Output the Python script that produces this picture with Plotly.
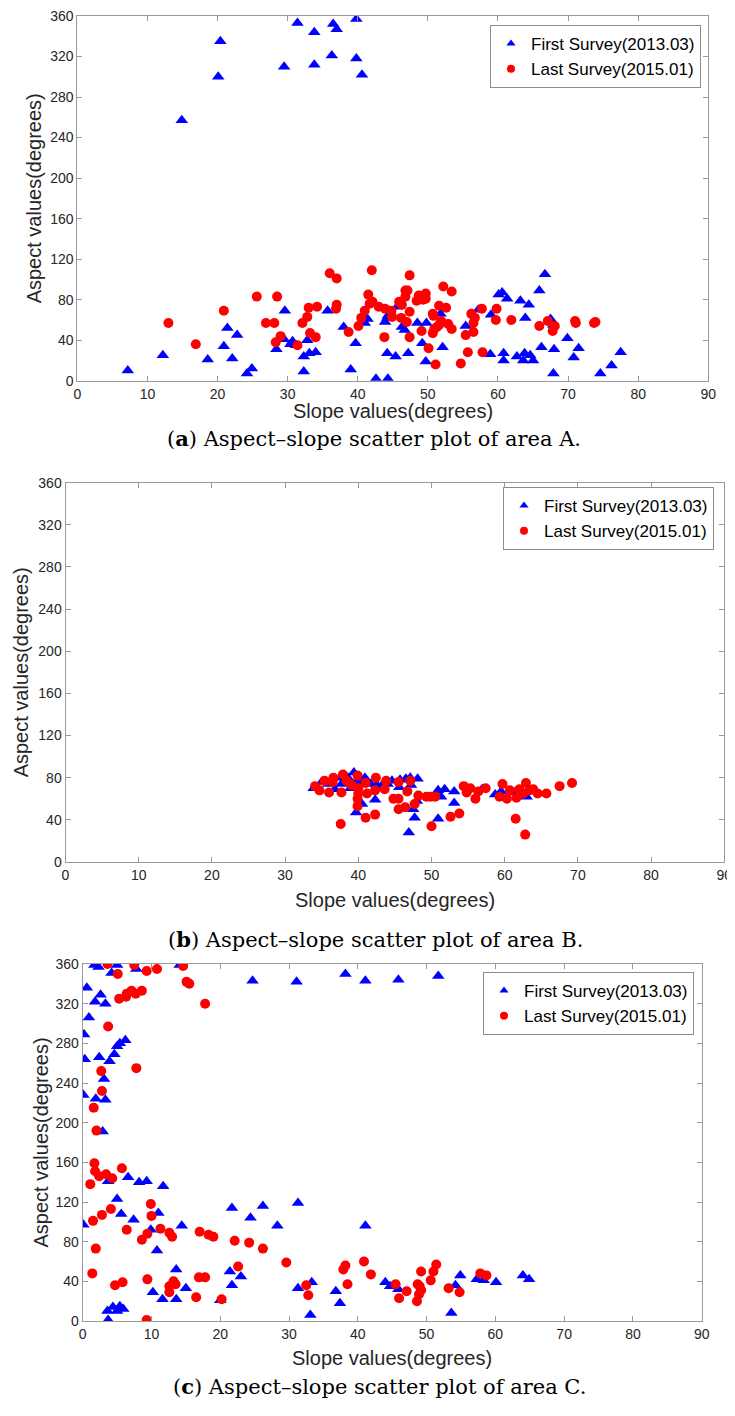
import plotly.graph_objects as go

# Page is 735x1416; the browser body adds an 8px margin, so the figure is 727x1408
PAGE_W, PAGE_H = 735, 1416
OFF = 8
W, H = PAGE_W - OFF, PAGE_H - OFF

# ---------------- Data ----------------
a_first_slope = [14.9, 20.1, 20.4, 29.5, 31.4, 33.8, 33.8, 36.3, 36.5, 37.0, 39.8, 39.8, 40.6,
                 7.2, 12.2, 18.6, 20.9, 21.4, 22.1, 22.8, 24.2, 24.9, 28.4, 29.6, 29.5, 30.7, 30.4,
                 31.2, 32.3, 32.3, 32.8, 33.1, 34.0, 35.7, 38.0, 39.0, 39.7, 41.0, 41.4, 42.6, 43.9,
                 44.2, 44.3, 44.2, 44.3, 45.4, 45.6, 46.3, 46.7, 47.2, 48.5, 49.2, 49.8, 49.7, 51.8,
                 52.1, 55.4, 57.2, 58.9, 59.0, 60.1, 60.6, 61.3, 60.8, 60.8, 62.7, 63.2, 63.8, 63.9,
                 63.6, 64.4, 64.6, 65.0, 65.9, 66.2, 66.7, 67.5, 67.9, 67.9, 68.0, 69.9, 70.8, 71.5,
                 74.6, 76.2, 77.5]
a_first_aspect = [257, 300, 335, 310, 353, 344, 312, 321, 352, 347, 357, 318, 302,
                  10, 25, 21, 34, 52, 22, 45, 7, 12, 31, 69, 41, 39, 36,
                  35, 24, 9, 40, 27, 28, 69, 53, 11, 37, 57, 61, 2, 58,
                  62, 64, 27, 2, 24, 73, 53, 50, 27, 57, 37, 57, 19, 66,
                  33, 54, 70, 26, 65, 85, 87, 81, 27, 20, 24, 79, 27, 62,
                  20, 75, 25, 20, 89, 33, 105, 61, 55, 7, 31, 42, 23, 32,
                  7, 15, 28]
a_last_slope = [13.0, 16.9, 20.9, 25.6, 26.9, 28.1, 28.5, 28.3, 29.0, 31.4, 32.1, 32.8, 33.0, 33.2,
                34.0, 34.2, 36.0, 37.0, 37.0, 36.9, 38.7, 40.1, 40.5, 41.0, 41.5, 41.7, 42.0, 42.1,
                43.0, 43.9, 43.8, 44.8, 44.9, 45.9, 46.2, 46.3, 46.8, 47.1, 46.8, 47.0, 47.4, 47.4,
                47.4, 48.4, 48.7, 49.1, 49.3, 49.7, 49.7, 50.1, 50.7, 50.8, 50.7, 50.9, 51.1, 51.3,
                51.6, 51.6, 51.9, 52.2, 52.6, 52.9, 53.4, 53.4, 54.7, 55.4, 55.7, 56.2, 56.7, 56.5,
                56.5, 57.7, 57.8, 59.8, 59.7, 61.9, 65.9, 67.1, 67.8, 68.1, 71.0, 71.1, 73.7, 73.9]
a_last_aspect = [57, 36, 69, 83, 57, 57, 83, 38, 44, 35, 57, 63, 72, 47,
                 43, 73, 106, 101, 75, 71, 48, 54, 62, 69, 85, 76, 109, 78,
                 73, 71, 43, 69, 63, 78, 62, 75, 89, 89, 83, 58, 104, 68,
                 43, 79, 84, 49, 80, 86, 81, 32, 66, 64, 47, 51, 16, 53,
                 55, 74, 59, 93, 72, 56, 88, 51, 17, 45, 28, 66, 62, 57,
                 48, 71, 28, 71, 60, 60, 54, 59, 49, 54, 59, 57, 57, 58]

b_first_slope = [33.9, 35.0, 35.9, 36.8, 37.5, 37.7, 38.6, 38.9, 39.4, 39.8, 40.2, 40.5, 39.7, 40.9,
                 41.7, 42.3, 42.5, 43.1, 44.0, 44.6, 45.6, 45.7, 46.5, 47.2, 47.1, 48.1, 48.0, 47.5,
                 47.7, 46.9, 50.9, 51.3, 50.9, 51.8, 53.1, 53.1, 56.9, 58.7, 59.5, 61.4, 63.0]
b_first_aspect = [70, 76, 74, 69, 80, 74, 80, 70, 85, 77, 74, 55, 47, 80,
                  74, 59, 73, 72, 74, 77, 71, 78, 79, 73, 80, 79, 58, 50,
                  42, 28, 68, 62, 41, 69, 67, 56, 69, 64, 67, 66, 62]
b_last_slope = [34.1, 34.7, 35.4, 36.0, 36.6, 36.5, 37.7, 37.9, 37.6, 38.4, 39.1, 39.9, 40.0, 40.0,
                39.9, 39.9, 41.0, 41.0, 41.2, 42.3, 42.4, 42.3, 43.6, 43.8, 44.8, 45.5, 45.5, 45.5,
                46.4, 46.7, 47.1, 47.7, 48.2, 49.3, 49.9, 50.5, 50.0, 52.6, 53.8, 54.4, 54.8, 55.3,
                56.0, 56.4, 57.4, 59.3, 59.7, 60.3, 60.7, 61.5, 61.6, 62.0, 62.5, 62.9, 62.8, 63.4,
                63.9, 64.5, 65.7, 67.5, 69.2]
b_last_aspect = [72, 68, 77, 66, 80, 76, 66, 83, 36, 77, 73, 82, 70, 65,
                 60, 53, 75, 42, 65, 68, 80, 45, 69, 77, 60, 60, 76, 50,
                 52, 67, 77, 55, 63, 62, 62, 62, 34, 43, 46, 72, 66, 70,
                 60, 67, 70, 62, 74, 60, 68, 41, 61, 69, 65, 75, 26, 68,
                 69, 65, 65, 72, 75]

c_first_slope = [1.7, 2.3, 5.0, 4.2, 7.8, 14.1, 0.6, 1.8, 2.6, 3.3, 0.9, 0.2, 0.3, 0.1, 2.4, 3.9,
                 4.6, 5.0, 5.4, 6.2, 3.1, 1.9, 3.3, 2.9, 24.7, 31.1, 38.2, 41.1, 45.9, 51.7,
                 0.1, 3.7, 5.0, 5.6, 6.6, 7.4, 8.2, 9.3, 9.9, 11.0, 10.8, 11.7, 14.4, 13.6, 15.0,
                 13.6, 11.6, 10.2, 3.6, 3.7, 4.4, 5.0, 5.4, 5.9, 20.0, 21.4, 21.7, 21.7, 23.0,
                 24.4, 26.2, 28.3, 31.3, 31.3, 33.1, 33.3, 36.8, 37.4, 41.1, 44.0, 44.7, 45.9,
                 53.6, 54.2, 54.9, 57.3, 58.3, 60.1, 64.0, 64.9]
c_first_aspect = [359, 357, 359, 351, 355, 359, 336, 322, 329, 320, 306, 289, 264, 228, 266, 262,
                  269, 277, 280, 283, 244, 224, 223, 191, 343, 342, 350, 343, 344, 348,
                  97, 141, 123, 108, 145, 102, 140, 141, 92, 109, 71, 136, 96, 52, 33,
                  22, 22, 29, 10, 1, 14, 10, 15, 12, 21, 50, 36, 114, 45,
                  104, 116, 96, 119, 33, 6, 39, 30, 18, 96, 39, 35, 32,
                  8, 36, 46, 42, 41, 39, 46, 42]
c_last_slope = [3.6, 5.1, 7.5, 9.3, 10.8, 14.6, 15.1, 15.5, 17.8, 5.3, 6.4, 6.3, 7.1, 7.7, 8.6,
                3.7, 7.8, 2.7, 2.8, 1.6, 2.0, 1.7, 1.8, 2.4, 3.4, 4.3, 1.1, 5.7, 1.5, 2.8, 4.1,
                1.9, 1.4, 6.4, 8.6, 9.4, 9.9, 10.0, 11.3, 12.6, 13.0, 17.0, 18.3, 19.0, 22.1,
                24.2, 26.2, 29.6, 22.6, 16.9, 17.8, 16.5, 20.2, 13.2, 13.5, 12.6, 12.6, 9.4, 9.3,
                4.7, 5.8, 32.5, 32.8, 37.9, 38.2, 38.5, 40.9, 41.9, 45.5, 46.0, 47.1, 48.6, 48.7,
                49.0, 49.2, 48.9, 49.2, 50.6, 51.0, 51.4, 53.2, 54.8, 57.8, 58.7]
c_last_aspect = [360, 350, 359, 353, 355, 358, 342, 340, 320, 325, 330, 327, 333, 330, 333,
                 297, 255, 252, 232, 215, 192, 159, 151, 146, 148, 144, 138, 154, 101, 107, 113,
                 73, 48, 92, 82, 88, 118, 106, 93, 89, 85, 90, 87, 85, 81,
                 79, 73, 59, 55, 44, 44, 24, 22, 40, 37, 35, 29, 42, 1,
                 36, 39, 36, 26, 52, 56, 37, 60, 47, 37, 23, 30, 20, 37,
                 35, 31, 27, 50, 41, 50, 57, 33, 29, 48, 46]

first_name = "First Survey(2013.03)"
last_name = "Last Survey(2015.01)"
captions = ["(<b>a</b>) Aspect\u2013slope scatter plot of area A.",
            "(<b>b</b>) Aspect\u2013slope scatter plot of area B.",
            "(<b>c</b>) Aspect\u2013slope scatter plot of area C."]
x_ticks = list(range(0, 91, 10))
y_ticks = list(range(0, 361, 40))

# ---------------- Layout geometry (page pixels) ----------------
def fx(px):
    return (px - OFF) / W

def fy(py):
    return 1 - (py - OFF) / H

panels = [
    dict(x=(77.3, 708.3), y=(16.0, 380.7), ytitle_x=34, xtitle_y=411, cap_y=438, cap_x=374,
         legend=(701, 25)),
    dict(x=(65.5, 724.3), y=(482.7, 862.0), ytitle_x=21, xtitle_y=900, cap_y=939, cap_x=375,
         legend=(714, 487)),
    dict(x=(82.7, 701.7), y=(964.0, 1321.0), ytitle_x=40, xtitle_y=1358, cap_y=1386, cap_x=379,
         legend=(694, 972)),
]
data = [
    (a_first_slope, a_first_aspect, a_last_slope, a_last_aspect),
    (b_first_slope, b_first_aspect, b_last_slope, b_last_aspect),
    (c_first_slope, c_first_aspect, c_last_slope, c_last_aspect),
]

BLUE = "#0000FF"
RED = "#FF0000"
AXC = "#9a9a9a"
TXT = "#262626"
SANS = "Liberation Sans, Arial, sans-serif"
SERIF = "DejaVu Serif, serif"

fig = go.Figure()
layout = dict(width=W, height=H, margin=dict(l=0, r=0, t=0, b=0, autoexpand=False),
              paper_bgcolor="white", plot_bgcolor="white", showlegend=True)
annotations = []

for i, (p, d) in enumerate(zip(panels, data)):
    n = "" if i == 0 else str(i + 1)
    xa, ya = "x" + n, "y" + n
    leg = "legend" + n
    fs, fa, ls, la = d
    fig.add_trace(go.Scatter(x=fs, y=fa, mode="markers", xaxis=xa, yaxis=ya,
                             marker=dict(symbol="triangle-up", size=11, color=BLUE, line=dict(width=0)),
                             name=first_name, showlegend=False))
    fig.add_trace(go.Scatter(x=ls, y=la, mode="markers", xaxis=xa, yaxis=ya,
                             marker=dict(symbol="circle", size=10, color=RED, line=dict(width=0)),
                             name=last_name, showlegend=False))
    # legend entries
    fig.add_trace(go.Scatter(x=[None], y=[None], mode="markers", xaxis=xa, yaxis=ya,
                             marker=dict(symbol="triangle-up", size=8, color=BLUE),
                             name=first_name, legend=leg))
    fig.add_trace(go.Scatter(x=[None], y=[None], mode="markers", xaxis=xa, yaxis=ya,
                             marker=dict(symbol="circle", size=8, color=RED),
                             name=last_name, legend=leg))

    axis_common = dict(showline=True, linecolor=AXC, linewidth=1, mirror="ticks",
                       ticks="inside", ticklen=5, tickcolor=AXC, tickwidth=1,
                       showgrid=False, zeroline=False, automargin=False,
                       ticklabeloverflow="allow",
                       tickfont=dict(family=SANS, size=14, color=TXT))
    layout["xaxis" + n] = dict(domain=[fx(p["x"][0]), fx(p["x"][1])], range=[0, 90],
                               tickvals=x_ticks, anchor=ya, **axis_common)
    layout["yaxis" + n] = dict(domain=[fy(p["y"][1]), fy(p["y"][0])], range=[0, 360],
                               tickvals=y_ticks, anchor=xa, **axis_common)
    layout[leg] = dict(x=fx(p["legend"][0]), y=fy(p["legend"][1]), xanchor="right", yanchor="top",
                       xref="paper", yref="paper",
                       bgcolor="white", bordercolor="#8c8c8c", borderwidth=1,
                       font=dict(family=SANS, size=17, color="#000000"),
                       tracegroupgap=0, itemwidth=30)
    xc = (p["x"][0] + p["x"][1]) / 2
    annotations.append(dict(text="Slope values(degrees)", x=fx(xc), y=fy(p["xtitle_y"]),
                            xref="paper", yref="paper", showarrow=False,
                            xanchor="center", yanchor="middle",
                            font=dict(family=SANS, size=20, color=TXT)))
    yc = (p["y"][0] + p["y"][1]) / 2
    annotations.append(dict(text="Aspect values(degrees)", x=fx(p["ytitle_x"]), y=fy(yc),
                            xref="paper", yref="paper", showarrow=False, textangle=-90,
                            xanchor="center", yanchor="middle",
                            font=dict(family=SANS, size=20, color=TXT)))
    annotations.append(dict(text=captions[i], x=fx(p["cap_x"]), y=fy(p["cap_y"]),
                            xref="paper", yref="paper", showarrow=False,
                            xanchor="center", yanchor="middle",
                            font=dict(family=SERIF, size=21, color="#000000")))

layout["annotations"] = annotations
fig.update_layout(**layout)
fig.write_html("out.html")
